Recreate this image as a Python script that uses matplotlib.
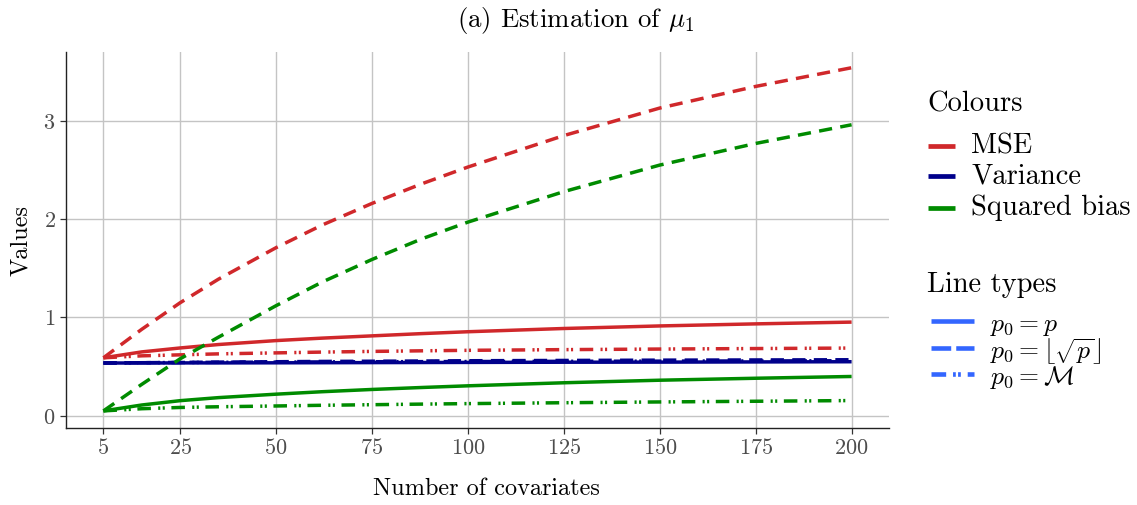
import matplotlib
matplotlib.use("Agg")
import matplotlib.pyplot as plt
from matplotlib.lines import Line2D

plt.rcParams['font.family'] = ['cmr10', 'DejaVu Serif']
plt.rcParams['mathtext.fontset'] = 'cm'
plt.rcParams['axes.unicode_minus'] = False
plt.rcParams['axes.formatter.use_mathtext'] = True

# ---- data ----
p = [5, 15, 25, 35, 50, 62, 75, 88, 100, 125, 150, 175, 200]

mse_full = [0.59, 0.65, 0.69, 0.725, 0.765, 0.79, 0.813, 0.836, 0.855, 0.888, 0.914, 0.935, 0.953]
mse_sqrt = [0.59, 0.88, 1.15, 1.39, 1.71, 1.94, 2.16, 2.36, 2.53, 2.85, 3.13, 3.35, 3.54]
mse_m = [0.59, 0.61, 0.62, 0.63, 0.64, 0.648, 0.655, 0.661, 0.666, 0.673, 0.679, 0.684, 0.689]

var_full = [0.537, 0.537, 0.538, 0.538, 0.539, 0.54, 0.541, 0.542, 0.543, 0.545, 0.546, 0.548, 0.55]
var_sqrt = [0.537, 0.54, 0.543, 0.546, 0.55, 0.553, 0.555, 0.557, 0.56, 0.563, 0.566, 0.568, 0.57]
var_m = [0.537, 0.54, 0.542, 0.544, 0.546, 0.548, 0.55, 0.551, 0.552, 0.554, 0.556, 0.558, 0.56]

bias_full = [0.05, 0.11, 0.154, 0.185, 0.22, 0.245, 0.268, 0.288, 0.305, 0.336, 0.362, 0.382, 0.40]
bias_sqrt = [0.05, 0.32, 0.58, 0.80, 1.12, 1.36, 1.59, 1.80, 1.97, 2.28, 2.55, 2.77, 2.96]
bias_m = [0.05, 0.072, 0.085, 0.092, 0.10, 0.107, 0.113, 0.119, 0.124, 0.133, 0.141, 0.148, 0.155]

xticks = [5, 25, 50, 75, 100, 125, 150, 175, 200]
yticks = [0, 1, 2, 3]

colour_labels = ['MSE', 'Variance', 'Squared bias']
type_labels = [r'$p_0 = p$', r'$p_0 = \lfloor\sqrt{p}\rfloor$', r'$p_0 = \mathcal{M}$']

# ---- styles ----
RED = '#D0282B'
BLUE = '#00008B'
GREEN = '#008B00'
KEYBLUE = '#3366FF'
LW = 2.5
DASHED = (0, (3.8, 2.4))
DOTDASH = (0, (3.9, 2.1, 0.6, 0.7, 0.6, 1.9))
styles = ['-', DASHED, DOTDASH]

W, H = 1137, 505
fig = plt.figure(figsize=(W / 100, H / 100), dpi=100)
ax = fig.add_axes([66/W, 1-428/H, (889-66)/W, (428-52)/H])

series = [
    (RED, [mse_full, mse_sqrt, mse_m]),
    (BLUE, [var_full, var_sqrt, var_m]),
    (GREEN, [bias_full, bias_sqrt, bias_m]),
]
for col, ys in series:
    for y, ls in zip(ys, styles):
        ax.plot(p, y, color=col, lw=LW, linestyle=ls, dash_capstyle='butt',
                solid_capstyle='butt', solid_joinstyle='round', zorder=3)

ax.set_xlim(-4.75, 209.75)
ax.set_ylim(-0.124, 3.70)
ax.set_xticks(xticks)
ax.set_yticks(yticks)
ax.grid(True, color='#C4C4C4', lw=1.0)
ax.set_axisbelow(True)
for s in ['top', 'right']:
    ax.spines[s].set_visible(False)
for s in ['left', 'bottom']:
    ax.spines[s].set_color('#222222')
    ax.spines[s].set_linewidth(1.0)
ax.tick_params(axis='both', colors='#333333', labelcolor='#4D4D4D',
               labelsize=16, length=4, width=0.9)
ax.set_xlabel('Number of covariates', fontsize=17.5)
ax.xaxis.set_label_coords((486 - 66) / (889 - 66), -0.162)
ax.xaxis.label.set_verticalalignment('center')
ax.set_ylabel('Values', fontsize=17.5, labelpad=8)


def fx(px):
    return px / W


def fy(py):
    return 1 - py / H


fig.text(fx(576), fy(20), r'(a) Estimation of $\mu_1$', fontsize=19.3,
         ha='center', va='center')

# legend: colours
fig.text(fx(927), fy(104), 'Colours', fontsize=20.5, ha='left', va='center')
for lab, col, yy in zip(colour_labels, [RED, BLUE, GREEN], [146, 176, 208]):
    fig.add_artist(Line2D([fx(928), fx(955)], [fy(yy), fy(yy)], color=col,
                          lw=3.4, solid_capstyle='butt', transform=fig.transFigure))
    fig.text(fx(971), fy(yy), lab, fontsize=20.5, ha='left', va='center')

# legend: line types
fig.text(fx(927), fy(285), 'Line types', fontsize=20.5, ha='left', va='center')
key_styles = ['-', (0, (4.3, 1.1)), (0, (3.2, 1.5, 0.6, 0.5, 0.6, 1.5))]
for lab, ls, yy, ty in zip(type_labels, key_styles, [321, 348, 374], [326, 352, 378]):
    fig.add_artist(Line2D([fx(931), fx(974)], [fy(yy), fy(yy)], color=KEYBLUE,
                          lw=3.3, linestyle=ls, dash_capstyle='butt',
                          solid_capstyle='butt', transform=fig.transFigure))
    fig.text(fx(990), fy(ty), lab, fontsize=18.5, ha='left', va='center')

fig.savefig('out.png', dpi=100)
